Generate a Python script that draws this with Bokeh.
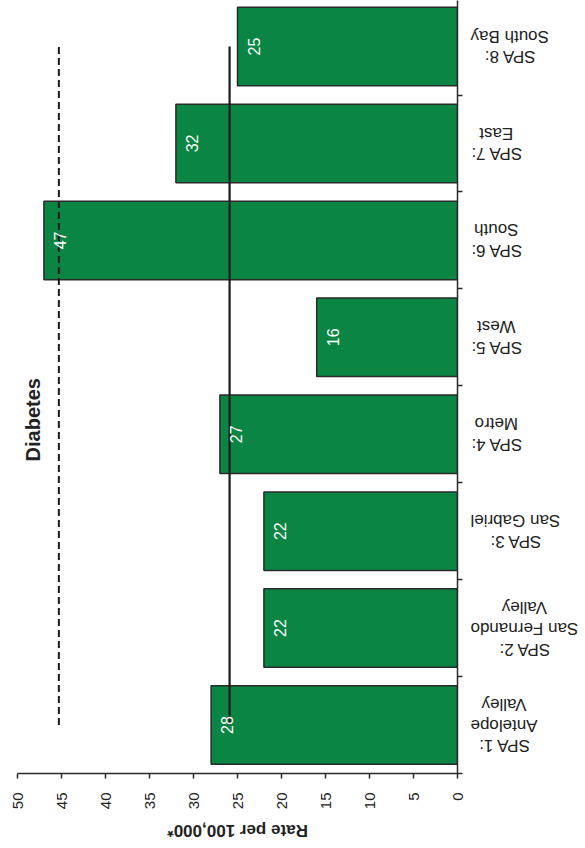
import math
from bokeh.plotting import figure
from bokeh.layouts import row, column
from bokeh.models import Range1d, FixedTicker, ColumnDataSource, Label
from bokeh.core.properties import value
from bokeh.embed import file_html
from bokeh.resources import INLINE

# ---- data ----
categories = ["SPA 1:\nAntelope\nValley", "SPA 2:\nSan Fernando\nValley", "SPA 3:\nSan Gabriel",
              "SPA 4:\nMetro", "SPA 5:\nWest", "SPA 6:\nSouth", "SPA 7:\nEast", "SPA 8:\nSouth Bay"]
rates = [28, 22, 22, 27, 16, 47, 32, 25]
county_rate = 25.9
target_rate = 45.3
x_ticks = [0, 5, 10, 15, 20, 25, 30, 35, 40, 45, 50]
title_text = "Diabetes"
x_axis_title = "Rate per 100,000*"

FONT = "Liberation Sans"
GREEN = "#0A8543"
DARK = "#2a2a2a"
TXT = "#222222"

pos = [i + 1 for i in range(len(categories))]
bounds = [i + 0.5 for i in range(len(categories) + 1)]

src = ColumnDataSource(dict(pos=pos, rate=rates, cat=categories,
                            lbl=[str(r) for r in rates], zero=[0] * len(rates)))

x_range = Range1d(x_ticks[-1], x_ticks[0])
y_range = Range1d(0.5, 8.475)

# ---------------- main plot ----------------
p = figure(width=465, height=812, output_backend="svg", toolbar_location=None,
           x_range=x_range, y_range=y_range, y_axis_location="right",
           min_border_left=17, min_border_right=8, min_border_top=0, min_border_bottom=36)
p.outline_line_color = None
p.grid.visible = False

xa = p.xaxis[0]
xa.ticker = FixedTicker(ticks=x_ticks, minor_ticks=[])
xa.major_tick_out = 5
xa.major_tick_in = 0
xa.minor_tick_out = 0
xa.minor_tick_in = 0
xa.axis_line_color = DARK
xa.axis_line_width = 1.5
xa.major_tick_line_color = DARK
xa.major_tick_line_width = 1.5
xa.major_label_orientation = math.pi / 2
xa.major_label_text_font = FONT
xa.major_label_text_font_size = "15px"
xa.major_label_text_color = TXT
xa.major_label_standoff = 14

ya = p.yaxis[0]
ya.ticker = FixedTicker(ticks=bounds, minor_ticks=[])
ya.major_tick_out = 5
ya.major_tick_in = 0
ya.minor_tick_out = 0
ya.minor_tick_in = 0
ya.axis_line_color = DARK
ya.axis_line_width = 1.5
ya.major_tick_line_color = DARK
ya.major_tick_line_width = 1.5
ya.major_label_overrides = {b: "" for b in bounds}
ya.major_label_standoff = 0

p.hbar(y="pos", left="zero", right="rate", height=0.81, source=src,
       fill_color=GREEN, line_color=DARK, line_width=1.5)

p.line(x=[target_rate, target_rate], y=[pos[0], pos[-1]], line_color="#1a1a1a",
       line_width=2, line_dash="7 4")
p.line(x=[county_rate, county_rate], y=[pos[0], pos[-1]], line_color="#1a1a1a",
       line_width=2.2)

p.text(x="rate", y="pos", text="lbl", source=src, angle=math.pi / 2,
       text_align="center", text_baseline="top", x_offset=10,
       text_color="white", text_font=value(FONT), text_font_size="16px")

p.add_layout(Label(x=48.2, y=4.15, text=title_text, angle=math.pi / 2,
                   text_align="center", text_baseline="middle",
                   text_font=FONT, text_font_size="20px", text_font_style="bold",
                   text_color=TXT))

# ---------------- category labels (upside down) ----------------
p2 = figure(width=120, height=812, output_backend="svg", toolbar_location=None,
            x_range=Range1d(0, 1), y_range=y_range,
            x_axis_location=None, y_axis_location=None,
            min_border_left=0, min_border_right=0, min_border_top=0, min_border_bottom=36)
p2.outline_line_color = None
p2.grid.visible = False
p2.text(x="zero", y="pos", text="cat", source=src, angle=math.pi, x_offset=5,
        anchor=value("center_right"), text_align="center", text_baseline="middle",
        text_color=TXT, text_font=value(FONT), text_font_size="17px",
        text_line_height=1.1)

# ---------------- x axis title (upside down) ----------------
p3 = figure(width=465, height=36, output_backend="svg", toolbar_location=None,
            x_range=x_range, y_range=Range1d(0, 1),
            x_axis_location=None, y_axis_location=None,
            min_border_left=17, min_border_right=8, min_border_top=0, min_border_bottom=0)
p3.outline_line_color = None
p3.grid.visible = False
p3.text(x=[(x_ticks[0] + x_ticks[-1]) / 2], y=[0.5], text=[x_axis_title], angle=math.pi,
        text_align="center", text_baseline="middle", text_color=TXT,
        text_font=value(FONT), text_font_size="17px", text_font_style="bold")

layout = column(row(p, p2), p3)
open("out.html", "w").write(file_html(layout, INLINE))
